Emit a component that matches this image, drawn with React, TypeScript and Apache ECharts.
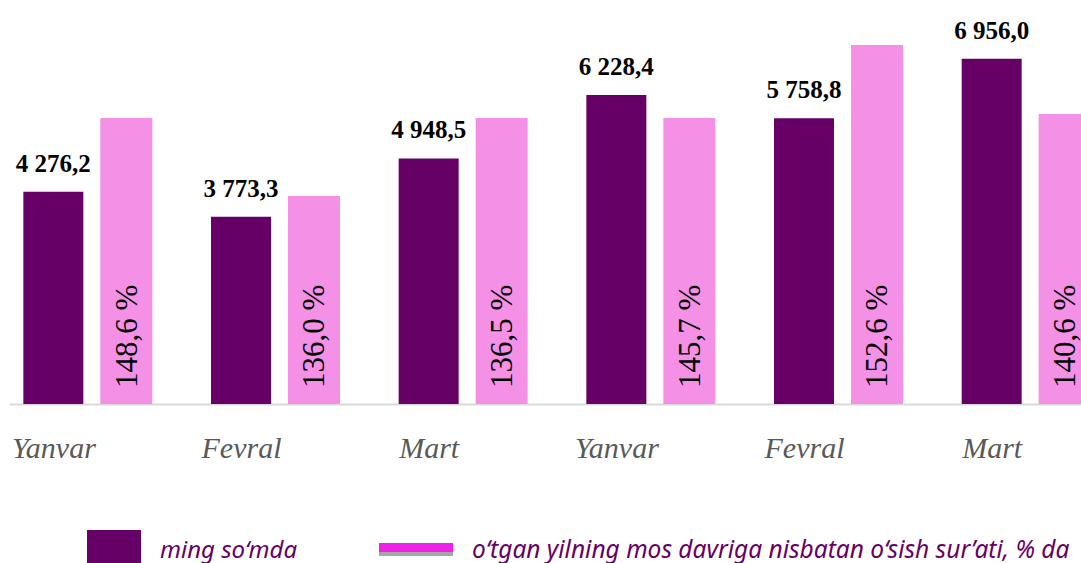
import React, { useEffect, useRef } from "react";
import * as echarts from "echarts";

const categories = ["Yanvar", "Fevral", "Mart", "Yanvar", "Fevral", "Mart"];
const amountValues = [4276.2, 3773.3, 4948.5, 6228.4, 5758.8, 6956.0];
const growthLabels = ["148,6 %", "136,0 %", "136,5 %", "145,7 %", "152,6 %", "140,6 %"];
// bar heights of the growth series as drawn (same scale as amounts)
const growthBarHeights = [5763, 4191, 5763, 5763, 7234, 5844];
const legendNames = ["ming so‘mda", "o‘tgan yilning mos davriga nisbatan o‘sish sur’ati, % da"];

const SERIF = "'Liberation Serif', 'Times New Roman', Times, serif";
const SANS = "'Noto Sans', 'Open Sans', sans-serif";

const fmt = (v: number) => {
  const s = v.toFixed(1);
  const [int, dec] = s.split(".");
  return int.replace(/\B(?=(\d{3})+(?!\d))/g, " ") + "," + dec;
};

export default function App() {
  const ref = useRef<HTMLDivElement>(null);
  useEffect(() => {
    if (!ref.current) return;
    const chart = echarts.init(ref.current, undefined, { renderer: "svg" });
    chart.setOption({
      animation: false,
      backgroundColor: "#ffffff",
      grid: {
        left: -6,
        top: 0,
        width: 1126,
        height: 404,
        containLabel: false,
        outerBoundsMode: "none",
      },
      xAxis: {
        type: "category",
        data: categories,
        axisLine: { show: false },
        axisTick: { show: false },
        axisLabel: {
          margin: 28,
          padding: [0, 68, 0, 0],
          fontFamily: SERIF,
          fontStyle: "italic",
          fontSize: 30,
          color: "#595959",
        },
      },
      yAxis: {
        type: "value",
        min: 0,
        max: 8140,
        show: false,
        splitLine: { show: false },
      },
      series: [
        {
          type: "bar",
          name: legendNames[0],
          data: amountValues,
          barWidth: 60,
          barGap: "28.3%",
          itemStyle: { color: "#660066" },
          label: {
            show: true,
            position: "top",
            distance: 16,
            formatter: (p: any) => fmt(p.value),
            fontFamily: SERIF,
            fontWeight: "bold",
            fontSize: 25,
            color: "#000000",
          },
        },
        {
          type: "bar",
          name: legendNames[1],
          data: growthBarHeights,
          barWidth: 52,
          itemStyle: { color: "#F490E6" },
          label: {
            show: true,
            position: "insideBottom",
            rotate: 90,
            align: "left",
            verticalAlign: "middle",
            distance: 16,
            formatter: (p: any) => growthLabels[p.dataIndex],
            fontFamily: SERIF,
            fontSize: 31,
            color: "#000000",
          },
        },
      ],
      graphic: [
        {
          type: "line",
          shape: { x1: 10, y1: 404.5, x2: 1081, y2: 404.5 },
          style: { stroke: "#d9d9d9", lineWidth: 2 },
          z: 0,
        },
        {
          type: "rect",
          shape: { x: 87, y: 530, width: 54, height: 34 },
          style: { fill: "#660066" },
        },
        {
          type: "text",
          x: 160,
          y: 548,
          style: {
            text: legendNames[0],
            fontFamily: SANS,
            fontStyle: "italic",
            fontSize: 24,
            fill: "#660066",
            verticalAlign: "middle",
          },
        },
        {
          type: "rect",
          shape: { x: 379, y: 543, width: 74, height: 9 },
          style: { fill: "#EE22E6" },
        },
        {
          type: "rect",
          shape: { x: 379, y: 552, width: 74, height: 4 },
          style: { fill: "#A6A6A6" },
        },
        {
          type: "text",
          x: 472,
          y: 548,
          style: {
            text: legendNames[1],
            fontFamily: SANS,
            fontStyle: "italic",
            fontSize: 24.5,
            fill: "#660066",
            verticalAlign: "middle",
          },
        },
      ],
    });
    return () => chart.dispose();
  }, []);
  return (
    <div
      ref={ref}
      style={{ position: "absolute", left: 0, top: 0, width: 1081, height: 563, overflow: "hidden" }}
    />
  );
}
